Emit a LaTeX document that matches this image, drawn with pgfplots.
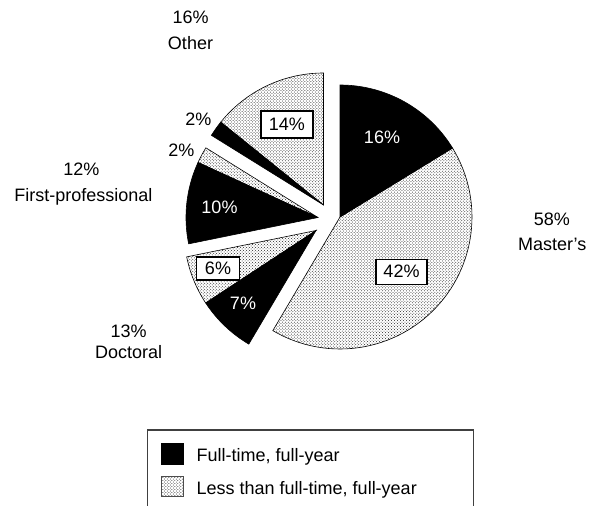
\documentclass[border=0pt]{standalone}
\usepackage{pgfplots}
\pgfplotsset{compat=1.18}
\usepackage{fontspec}
\setmainfont{Liberation Sans}
\usetikzlibrary{patterns}

\newcommand\lbl{\fontsize{18bp}{21bp}\selectfont}
% #1 start (% of circle), #2 end (%), #3,#4 vertex of the slice, #5 style
\newcommand\slice[5]{%
  \addplot[#5, line width=0.6bp, forget plot, domain=#1:#2, samples=60, variable=\t]
    ({#3+132*sin(3.6*\t)}, {#4-132*cos(3.6*\t)}) -- (axis cs:#3,#4) -- cycle;
}
\tikzset{
  ft/.style={fill=black, draw=black},
  lt/.style={pattern=crosshatch dots, pattern color=black!85, draw=black},
  boxed/.style={draw=black, fill=white, line width=1.4bp, inner sep=0pt, font=\lbl},
}

\begin{document}
\begin{tikzpicture}
\begin{axis}[
  name=ax,
  width=591bp, height=506bp, scale only axis,
  xmin=0, xmax=591, ymin=0, ymax=506, y dir=reverse,
  hide axis, clip=false,
  legend style={at={(axis cs:160.7,442.7)}, anchor=north west, draw=none, fill=none,
    inner sep=0pt, row sep=12bp, column sep=13bp, font=\lbl,
    nodes={inner sep=0pt}},
  legend cell align=left,
]
% Master's: 58%  (16% full-time, 42% less)
\slice{0}{16.25}{340}{217}{ft}
\slice{16.25}{58.5}{340}{217}{lt}
% Doctoral: 13% (7%, 6%)
\slice{58.5}{65.75}{316}{230.5}{ft}
\slice{65.75}{71.8}{316}{230.5}{lt}
% First-professional: 12% (10%, 2%)
\slice{71.8}{81.85}{318}{217.5}{ft}
\slice{81.85}{83.85}{318}{217.5}{lt}
% Other: 16% (2%, 14%)
\slice{83.85}{85.8}{323.5}{205}{ft}
\slice{85.8}{100}{323.5}{205}{lt}

\addlegendimage{legend image code/.code={\filldraw[fill=black,draw=black] (0bp,-8.5bp) rectangle (22bp,12.5bp);}}
\addlegendentry{Full-time, full-year}
\addlegendimage{legend image code/.code={\filldraw[pattern=crosshatch dots,pattern color=black!85,draw=black!70,line width=0.8bp] (0bp,-8bp) rectangle (22bp,12bp);}}
\addlegendentry{Less than full-time, full-year}

% category labels
\node[font=\lbl, anchor=base] at (axis cs:190.7,23.4) {16\%};
\node[font=\lbl, anchor=base] at (axis cs:190.5,50) {Other};
\node[font=\lbl, anchor=base] at (axis cs:81.4,175) {12\%};
\node[font=\lbl, anchor=base] at (axis cs:83.3,201.7) {First-professional};
\node[font=\lbl, anchor=base] at (axis cs:128.7,337.3) {13\%};
\node[font=\lbl, anchor=base] at (axis cs:128.7,358.3) {Doctoral};
\node[font=\lbl, anchor=base] at (axis cs:551.9,225) {58\%};
\node[font=\lbl, anchor=base] at (axis cs:552.2,250) {Master's};
% slice labels
\node[font=\lbl, anchor=base] at (axis cs:198.3,125.5) {2\%};
\node[font=\lbl, anchor=base] at (axis cs:181.3,156.5) {2\%};
\node[font=\lbl, anchor=base, text=white] at (axis cs:382,143.3) {16\%};
\node[font=\lbl, anchor=base, text=white] at (axis cs:219.5,213.3) {10\%};
\node[font=\lbl, anchor=base, text=white] at (axis cs:243,309) {7\%};
\node[boxed, minimum width=51bp, minimum height=25bp] at (axis cs:401.5,271.7) {42\%};
\node[boxed, minimum width=52bp, minimum height=27bp] at (axis cs:286.8,124.3) {14\%};
\node[boxed, minimum width=43bp, minimum height=23bp] at (axis cs:218,268.3) {6\%};
% legend frame
\draw[black!75, line width=1.3bp] (axis cs:147.3,540) -- (axis cs:147.3,430) -- (axis cs:473.5,430) -- (axis cs:473.5,540);
\end{axis}
\pgfresetboundingbox
\path (ax.south west) rectangle (ax.north east);
\end{tikzpicture}
\end{document}
